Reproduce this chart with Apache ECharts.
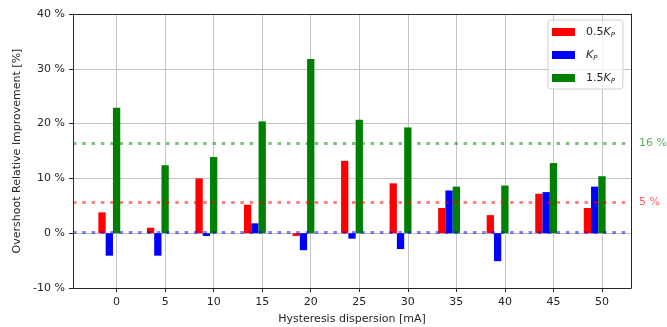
<!DOCTYPE html>
<html>
<head>
<meta charset="utf-8">
<script src="https://cdn.jsdelivr.net/npm/echarts@6/dist/echarts.min.js"></script>
<style>
html, body { margin: 0; padding: 0; background: #fff; }
#chart { width: 667px; height: 327px; }
</style>
</head>
<body>
<div id="chart"></div>
<script>
// hysteresis dispersion [mA]
var dispersion = [0, 5, 10, 15, 20, 25, 30, 35, 40, 45, 50];
// overshoot relative improvement [%]
var halfKp    = [3.8, 1.0, 10.0, 5.2, -0.5, 13.2, 9.1, 4.6, 3.3, 7.2, 4.6];
var kp        = [-4.1, -4.1, -0.5, 1.8, -3.1, -1.0, -2.9, 7.8, -5.1, 7.5, 8.5];
var oneHalfKp = [22.9, 12.4, 13.9, 20.4, 31.8, 20.7, 19.3, 8.5, 8.7, 12.8, 10.4];
// mean lines
var meanValues = [5.7, 0.2, 16.4];
var meanLabels = ['5 %', '', '16 %'];
var seriesNames = ['0.5Kp', 'Kp', '1.5Kp'];
var legendText = ['0.5{k|K}{p|P}', '{k|K}{p|P}', '1.5{k|K}{p|P}'];
var colors = ['#ff0000', '#0000ff', '#008000'];
var lineColors = ['rgba(255,0,0,0.5)', 'rgba(0,0,255,0.5)', 'rgba(0,128,0,0.5)'];
var labelColors = ['rgba(255,0,0,0.65)', 'rgba(0,0,255,0.65)', 'rgba(0,128,0,0.65)'];
var offsets = [-1.5, -0.75, 0];

var FONT = 'DejaVu Sans';
var TXT = '#262626';
var GRID = '#c4c4c4';

var myChart = echarts.init(document.getElementById('chart'));

var allValues = [halfKp, kp, oneHalfKp];
var series = [];
for (var s = 0; s < 3; s++) {
    var data = [];
    for (var i = 0; i < dispersion.length; i++) {
        data.push([dispersion[i] + offsets[s], allValues[s][i]]);
    }
    series.push({
        name: seriesNames[s],
        type: 'bar',
        barWidth: 7.3,
        barGap: '-100%',
        itemStyle: { color: colors[s] },
        data: data,
        markLine: {
            silent: true,
            symbol: 'none',
            animation: false,
            lineStyle: { color: lineColors[s], type: [3.5, 5.8], width: 3, cap: 'butt' },
            label: {
                show: meanLabels[s] !== '',
                position: 'end',
                distance: 8,
                formatter: meanLabels[s],
                color: labelColors[s],
                fontFamily: FONT,
                fontSize: 11
            },
            data: [{ yAxis: meanValues[s] }]
        }
    });
}

myChart.setOption({
    animation: false,
    grid: {
        left: 73,
        right: 36,
        top: 14,
        bottom: 39,
        containLabel: false,
        outerBoundsMode: 'none'
    },
    legend: {
        orient: 'vertical',
        left: 548,
        top: 20,
        padding: [5, 8, 4, 4],
        itemGap: 9,
        itemWidth: 23,
        itemHeight: 8,
        icon: 'rect',
        backgroundColor: 'rgba(255,255,255,0.8)',
        borderColor: '#d0d0d0',
        borderWidth: 1,
        borderRadius: 3,
        data: seriesNames,
        formatter: function (name) {
            return legendText[seriesNames.indexOf(name)];
        },
        textStyle: {
            fontFamily: FONT,
            fontSize: 11,
            color: TXT,
            padding: [0, 0, 0, 6],
            lineHeight: 14,
            rich: {
                k: { fontFamily: FONT, fontSize: 11, fontStyle: 'italic', color: TXT, lineHeight: 14 },
                p: { fontFamily: FONT, fontSize: 7, fontStyle: 'italic', color: TXT, verticalAlign: 'bottom', lineHeight: 10, padding: [5, 0, 0, 0] }
            }
        }
    },
    xAxis: [{
        type: 'value',
        min: -4.49,
        max: 52.99,
        name: 'Hysteresis dispersion [mA]',
        nameLocation: 'middle',
        nameGap: 26,
        nameTextStyle: { fontFamily: FONT, fontSize: 11, color: TXT },
        axisLine: { onZero: false, lineStyle: { color: TXT } },
        axisTick: { show: true, length: 4, customValues: dispersion, lineStyle: { color: TXT } },
        axisLabel: { customValues: dispersion, margin: 9, fontFamily: FONT, fontSize: 11, color: TXT },
        splitLine: { show: true, lineStyle: { color: GRID, width: 1 } }
    }, {
        // top frame line
        type: 'value',
        position: 'top',
        min: -4.49,
        max: 52.99,
        axisLine: { show: true, onZero: false, lineStyle: { color: TXT } },
        axisTick: { show: false },
        axisLabel: { show: false },
        splitLine: { show: false }
    }],
    yAxis: [{
        type: 'value',
        min: -10,
        max: 40,
        interval: 10,
        name: 'Overshoot Relative Improvement [%]',
        nameLocation: 'middle',
        nameGap: 48,
        nameTextStyle: { fontFamily: FONT, fontSize: 11, color: TXT },
        axisLine: { show: true, onZero: false, lineStyle: { color: TXT } },
        axisTick: { show: true, length: 4, lineStyle: { color: TXT } },
        axisLabel: { formatter: '{value} %', margin: 8, fontFamily: FONT, fontSize: 11, color: TXT },
        splitLine: { show: true, lineStyle: { color: GRID, width: 1 } }
    }, {
        // right frame line
        type: 'value',
        position: 'right',
        min: -10,
        max: 40,
        interval: 10,
        axisLine: { show: true, onZero: false, lineStyle: { color: TXT } },
        axisTick: { show: false },
        axisLabel: { show: false },
        splitLine: { show: false }
    }],
    series: series
});
</script>
</body>
</html>
